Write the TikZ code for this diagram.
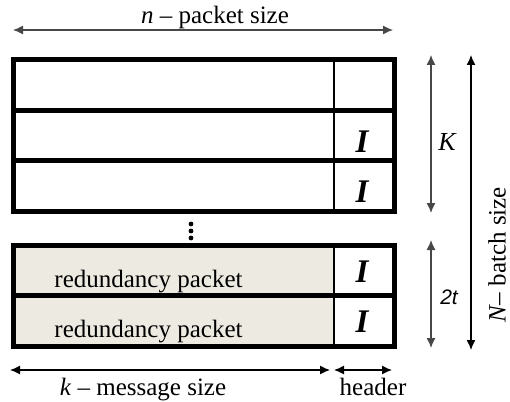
\documentclass[tikz,border=0pt]{standalone}
\usepackage{fontspec}
\setmainfont{Liberation Serif}
\setsansfont{Liberation Sans}
\usetikzlibrary{arrows.meta}
\definecolor{redfill}{RGB}{237,234,225}

\begin{document}
\begin{tikzpicture}[x=1pt, y=-1pt, >={Latex[length=10pt,width=9pt]},
	txt/.style={font=\fontsize{25}{28}\selectfont, inner sep=0pt},
	pkt/.style={minimum width=380.5pt, minimum height=50.5pt, inner sep=0pt},
	hcell/.style={fill=white, minimum width=60pt, minimum height=50.5pt, inner sep=0pt},
	hdr/.style={font=\fontsize{33}{36}\selectfont\bfseries\itshape, inner sep=0pt, anchor=base},
	dim/.style={<->, line width=1.3pt, draw=black!72}]
	\useasboundingbox (0,0) rectangle (510,401);
	% packet rows
	\foreach \r/\y/\c in {1/85.25/white, 2/135.75/white, 3/186.25/white, 4/270.5/redfill, 5/321/redfill} {
		\node[pkt, fill=\c] (row\r) at (203.75,\y) {};
		\node[hcell] (hd\r) at (364,\y) {};
		\draw[line width=1.6pt] (hd\r.north west) -- (hd\r.south west);
		\draw[line width=5pt] (row\r.north west) rectangle (row\r.south east);
	}
	\foreach \r/\b in {2/152, 3/202, 4/282, 5/332} {\node[hdr] (i\r) at (362,\b) {I};}
	\node[txt, anchor=base] (red4) at (148.5,287) {redundancy packet};
	\node[txt, anchor=base] (red5) at (148.5,337) {redundancy packet};
	\foreach \d in {224,231,238} {\fill (191,\d) circle (2.4pt);}
	% dimensions
	\coordinate (nl) at (13,30);   \coordinate (nr) at (393,30);
	\coordinate (kl) at (10,370);  \coordinate (kr) at (330,370);
	\coordinate (hl) at (334,370); \coordinate (hr) at (392,370);
	\coordinate (Kt) at (431,55);  \coordinate (Kb) at (431,213);
	\coordinate (tt) at (431,240); \coordinate (tb) at (431,348);
	\coordinate (Nt) at (471,55);  \coordinate (Nb) at (471,350);
	\draw[dim] (nl) -- (nr);
	\draw[dim] (Kt) -- (Kb);
	\draw[dim] (tt) -- (tb);
	\draw[dim, draw=black] (Nt) -- (Nb);
	\draw[dim, draw=black] (kl) -- (kr);
	\draw[dim, draw=black] (hl) -- (hr);
	\node[txt, anchor=base] (nlab) at (215,24) {\textit{n} -- packet size};
	\node[txt, anchor=base] (klab) at (143,395) {\textit{k} -- message size};
	\node[txt, anchor=base] (hlab) at (373,395) {header};
	\node[txt, font=\fontsize{26}{28}\selectfont\itshape] (Klab) at (447,142) {K};
	\node[txt, font=\fontsize{21}{24}\sffamily\itshape] (tlab) at (449,297) {2t};
	\node[txt, rotate=90] (Nlab) at (497,255) {\textit{N}-- batch size};
\end{tikzpicture}
\end{document}
